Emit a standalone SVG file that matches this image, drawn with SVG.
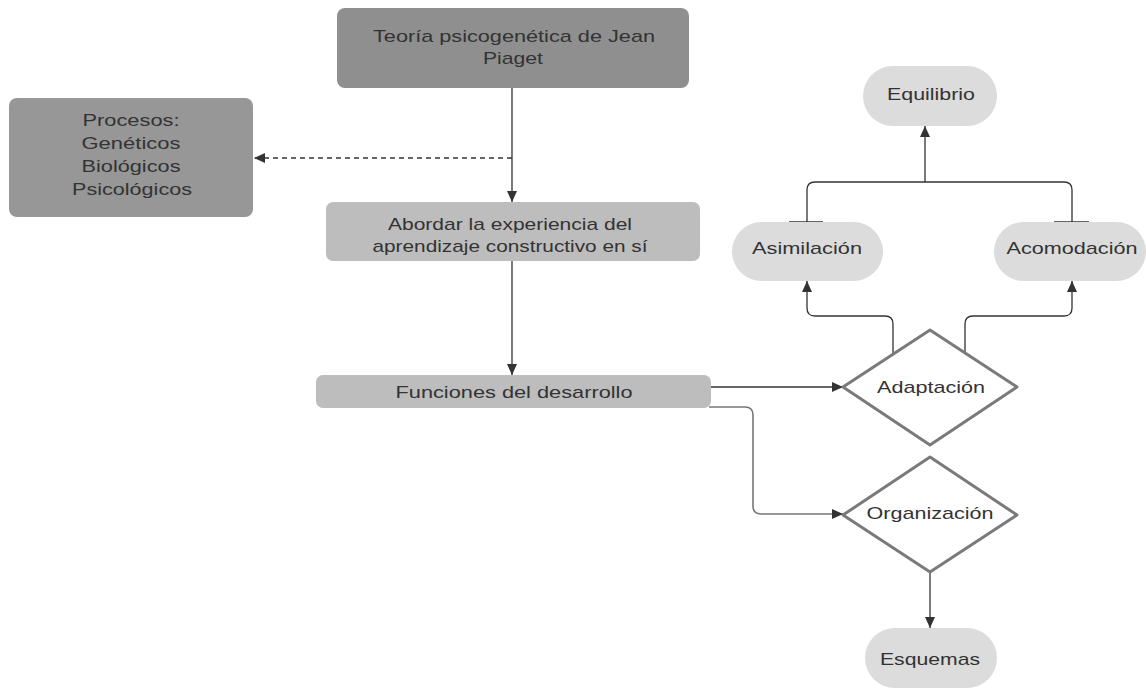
<svg xmlns="http://www.w3.org/2000/svg" width="1146" height="688" viewBox="0 0 1146 688">
<style>
text{font-family:"Liberation Sans",Arial,sans-serif;font-size:17px;fill:#333;text-anchor:middle}
.dark{fill:#8f8f8f}
.mid{fill:#979797}
.light{fill:#bdbdbd}
.pill{fill:#dcdcdc}
.dia{fill:#fff;stroke:#7a7a7a;stroke-width:3;stroke-linejoin:round}
.c{fill:none;stroke:#333;stroke-width:1.3}
.g{fill:none;stroke:#777;stroke-width:1.6}
</style>
<defs>
<marker id="ah" markerUnits="userSpaceOnUse" markerWidth="12" markerHeight="10" refX="11" refY="5" orient="auto">
<path d="M0,0 L11,5 L0,10 Z" fill="#333"/>
</marker>
</defs>
<rect width="1146" height="688" fill="#fff"/>
<g id="connectors">
<path class="c" d="M512 88 V202" marker-end="url(#ah)"/>
<path class="c" d="M512 158 H254" stroke-dasharray="5,4" marker-end="url(#ah)"/>
<path class="c" d="M512 261 V375" marker-end="url(#ah)"/>
<path class="c" d="M711 387 H843" marker-end="url(#ah)"/>
<path class="g" d="M709 407 H745 Q753 407 753 415 V506 Q753 514 761 514 H843" marker-end="url(#ah)"/>
<path class="c" d="M930 572 V628" marker-end="url(#ah)"/>
<path class="c" d="M893 353 V324 Q893 316 885 316 H815 Q807 316 807 308 V281" marker-end="url(#ah)"/>
<path class="c" d="M965 353 V324 Q965 316 973 316 H1064 Q1072 316 1072 308 V281" marker-end="url(#ah)"/>
<path class="c" d="M807 222 V190 Q807 182 815 182 H1064 Q1072 182 1072 190 V222"/>
<path class="c" d="M789 222 H823 M1054 222 H1089"/>
<path class="c" d="M925 182 V126" marker-end="url(#ah)"/>
</g>
<g id="teoria">
<rect class="dark" x="337" y="8" width="352" height="80" rx="8"/>
<text x="514" y="42" textLength="282" lengthAdjust="spacingAndGlyphs">Teoría psicogenética de Jean</text>
<text x="513" y="64" textLength="60" lengthAdjust="spacingAndGlyphs">Piaget</text>
</g>
<g id="procesos">
<rect class="mid" x="9" y="98" width="244" height="119" rx="8"/>
<text x="131" y="126" textLength="97" lengthAdjust="spacingAndGlyphs">Procesos:</text>
<text x="131" y="149" textLength="99" lengthAdjust="spacingAndGlyphs">Genéticos</text>
<text x="131" y="172" textLength="99" lengthAdjust="spacingAndGlyphs">Biológicos</text>
<text x="132" y="195" textLength="120" lengthAdjust="spacingAndGlyphs">Psicológicos</text>
</g>
<g id="abordar">
<rect class="light" x="326" y="202" width="374" height="59" rx="7"/>
<text x="510" y="230" textLength="244" lengthAdjust="spacingAndGlyphs">Abordar la experiencia del</text>
<text x="510" y="252" textLength="275" lengthAdjust="spacingAndGlyphs">aprendizaje constructivo en sí</text>
</g>
<g id="funciones">
<rect class="light" x="316" y="375" width="395" height="33" rx="7"/>
<text x="514" y="398" textLength="237" lengthAdjust="spacingAndGlyphs">Funciones del desarrollo</text>
</g>
<g id="adaptacion">
<path class="dia" d="M930 330 L1017 387 L930 445 L843 387 Z"/>
<text x="931" y="393" textLength="108" lengthAdjust="spacingAndGlyphs">Adaptación</text>
</g>
<g id="organizacion">
<path class="dia" d="M930 457 L1017 515 L930 572 L843 515 Z"/>
<text x="930" y="519" textLength="127" lengthAdjust="spacingAndGlyphs">Organización</text>
</g>
<g id="equilibrio">
<rect class="pill" x="863" y="66" width="134" height="60" rx="30"/>
<text x="931" y="100" textLength="88" lengthAdjust="spacingAndGlyphs">Equilibrio</text>
</g>
<g id="asimilacion">
<rect class="pill" x="732" y="222" width="151" height="59" rx="29.5"/>
<text x="807" y="254" textLength="110" lengthAdjust="spacingAndGlyphs">Asimilación</text>
</g>
<g id="acomodacion">
<rect class="pill" x="994" y="222" width="152" height="59" rx="29.5"/>
<text x="1072" y="254" textLength="131" lengthAdjust="spacingAndGlyphs">Acomodación</text>
</g>
<g id="esquemas">
<rect class="pill" x="865" y="628" width="132" height="60" rx="30"/>
<text x="930" y="665" textLength="100" lengthAdjust="spacingAndGlyphs">Esquemas</text>
</g>
</svg>
